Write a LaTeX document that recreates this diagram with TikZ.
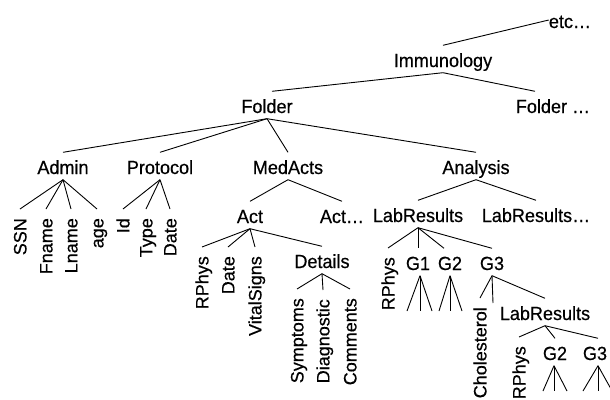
\documentclass[tikz,border=0pt]{standalone}
\usepackage{fontspec}
\setmainfont[FakeBold=0.5]{Liberation Sans}
\newfontfamily\hfont[FakeStretch=0.95,FakeBold=0.5]{Liberation Sans}
\usetikzlibrary{calc}
\begin{document}
\begin{tikzpicture}[x=1pt,y=-1pt,
  hlab/.style={font=\hfont\fontsize{19}{19}\selectfont, anchor=base, inner xsep=0pt, inner ysep=5.5pt, text height=16pt, text depth=0pt},
  vlab/.style={font=\fontsize{18}{18}\selectfont, rotate=90, anchor=east, inner xsep=9pt, inner ysep=0pt, text height=12.9pt, text depth=0pt},
  conn/.style={draw=black, line width=0.9pt}]
\useasboundingbox (0,0) rectangle (610,399);
% horizontal labels
\node[hlab] (etc) at (570,28) {etc…};
\node[hlab] (imm) at (443,67) {Immunology};
\node[hlab] (folder) at (267,113) {Folder};
\node[hlab] (folder2) at (553,113) {Folder …};
\node[hlab] (admin) at (63,174) {Admin};
\node[hlab] (protocol) at (160,174) {Protocol};
\node[hlab] (medacts) at (288,174) {MedActs};
\node[hlab] (analysis) at (476,174) {Analysis};
\node[hlab] (act) at (250,223) {Act};
\node[hlab] (act2) at (342,223) {Act…};
\node[hlab] (labr) at (418,222) {LabResults};
\node[hlab] (labr2) at (536,222) {LabResults…};
\node[hlab] (details) at (322,268) {Details};
\node[hlab] (g1) at (418,270) {G1};
\node[hlab] (g2) at (450,270) {G2};
\node[hlab] (g3) at (492,270) {G3};
\node[hlab] (labr3) at (545,320) {LabResults};
\node[hlab] (g2b) at (555,360) {G2};
\node[hlab] (g3b) at (595,360) {G3};
% vertical labels
\node[vlab] (ssn) at (20,209) {SSN};
\node[vlab] (fname) at (46,209) {Fname};
\node[vlab] (lname) at (71,209) {Lname};
\node[vlab] (age) at (97,209) {age};
\node[vlab] (id) at (123,209) {Id};
\node[vlab] (type) at (146,209) {Type};
\node[vlab] (pdate) at (170,209) {Date};
\node[vlab] (rphys) at (202,247) {RPhys};
\node[vlab] (adate) at (228,247) {Date};
\node[vlab] (vital) at (255,247) {VitalSigns};
\node[vlab] (sympt) at (297,289) {Symptoms};
\node[vlab] (diag) at (323,290) {Diagnostic};
\node[vlab] (comm) at (350,289) {Comments};
\node[vlab] (rphys2) at (388,248) {RPhys};
\node[vlab] (chol) at (480,298) {Cholesterol};
\node[vlab] (rphys3) at (519,337) {RPhys};
% free ends
\coordinate (g1a) at (407,311);
\coordinate (g1b) at (420,311);
\coordinate (g1c) at (432,311);
\coordinate (g2a) at (439,311);
\coordinate (g2c) at (450,311);
\coordinate (g2d) at (462,311);
\coordinate (g3v) at (493,303);
\coordinate (g2ba) at (543,391);
\coordinate (g2bb) at (554,391);
\coordinate (g2bc) at (567,391);
\coordinate (g3ba) at (583,391);
\coordinate (g3bb) at (598,391);
\coordinate (g3bc) at (611,389);
% connectors
\draw[conn] (imm.north) -- (etc.west);
\draw[conn] (imm.south) -- ([xshift=5pt]folder.north);
\draw[conn] (imm.south) -- ([xshift=-18pt]folder2.north);
\foreach \c in {admin,protocol,medacts,analysis} \draw[conn] (folder.south) -- (\c.north);
\foreach \c in {ssn,fname,lname,age} \draw[conn] (admin.south) -- (\c.east);
\foreach \c in {id,type,pdate} \draw[conn] (protocol.south) -- (\c.east);
\foreach \c in {act,act2} \draw[conn] (medacts.south) -- (\c.north);
\foreach \c in {labr,labr2} \draw[conn] (analysis.south) -- (\c.north);
\foreach \c in {rphys,adate,vital} \draw[conn] (act.south) -- (\c.east);
\draw[conn] (act.south) -- (details.north);
\foreach \c in {sympt,diag,comm} \draw[conn] (details.south) -- (\c.east);
\draw[conn] (labr.south) -- (rphys2.east);
\draw[conn] (labr.south) -- (g1.north);
\draw[conn] (labr.south) -- ([xshift=-6pt]g2.north);
\draw[conn] (labr.south) -- (g3.north);
\foreach \c in {g1a,g1b,g1c} \draw[conn] ([xshift=2pt]g1.south) -- (\c);
\foreach \c in {g2a,g2c,g2d} \draw[conn] (g2.south) -- (\c);
\draw[conn] (g3.south) -- (chol.east);
\draw[conn] (g3.south) -- (g3v);
\draw[conn] (g3.south) -- (labr3.north);
\draw[conn] (labr3.south) -- (rphys3.east);
\draw[conn] (labr3.south) -- (g2b.north);
\draw[conn] (labr3.south) -- ([xshift=3pt]g3b.north);
\foreach \c in {g2ba,g2bb,g2bc} \draw[conn] ([xshift=-1pt]g2b.south) -- (\c);
\foreach \c in {g3ba,g3bb,g3bc} \draw[conn] ([xshift=3pt]g3b.south) -- (\c);
\end{tikzpicture}
\end{document}
